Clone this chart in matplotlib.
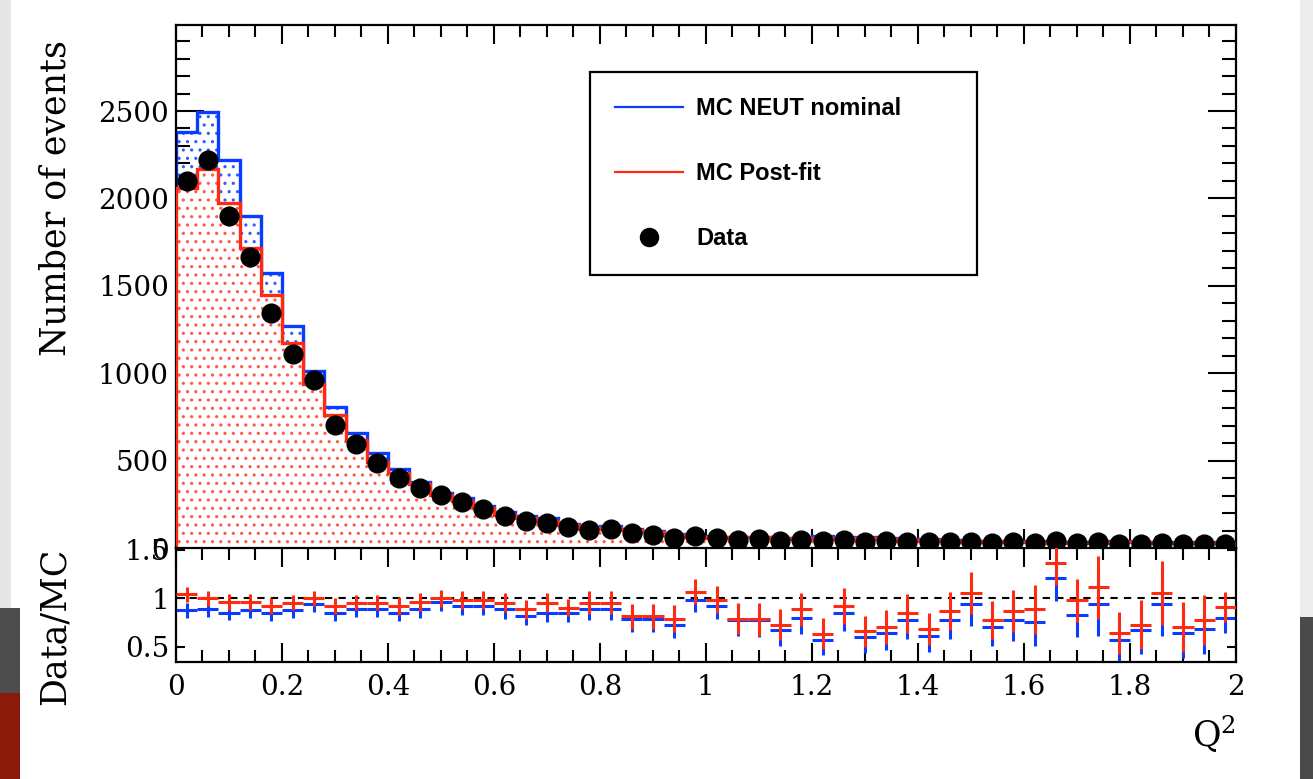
import numpy as np
import matplotlib.pyplot as plt
from matplotlib.lines import Line2D
from matplotlib.patches import Rectangle
from matplotlib.ticker import MultipleLocator

# ---------------------------------------------------------------------------
# Values (50 bins of width 0.04 in Q^2)
# ---------------------------------------------------------------------------
Q2_EDGES = np.round(np.arange(51) * 0.04, 2)

data_counts = [2100, 2220, 1900, 1665, 1345, 1110, 960, 703, 595, 485,
               400, 343, 303, 262, 222, 182, 152, 145, 118, 105,
               110, 85, 76, 58, 68, 58, 48, 50, 40, 46,
               38, 45, 36, 38, 36, 32, 34, 36, 30, 32,
               30, 40, 30, 32, 22, 24, 30, 22, 24, 24]

mc_nominal = [2380, 2493, 2221, 1897, 1573, 1268, 1011, 808, 659, 541,
              450, 379, 316, 285, 241, 206, 185, 171, 140, 118,
              124, 109, 97, 80, 69, 63, 62, 65, 60, 58,
              67, 53, 61, 59, 47, 52, 44, 38, 43, 41,
              40, 33, 36, 34, 39, 36, 32, 34, 35, 30]

mc_postfit = [2057, 2170, 1973, 1718, 1446, 1173, 937, 760, 617, 493,
              427, 366, 303, 267, 227, 191, 172, 152, 131, 110,
              115, 104, 93, 73, 64, 59, 61, 64, 55, 52,
              60, 49, 55, 54, 43, 47, 39, 34, 39, 37,
              34, 29, 31, 29, 34, 33, 29, 31, 31, 26]

ratio_nominal = [0.874, 0.885, 0.85, 0.874, 0.843, 0.874, 0.937, 0.843, 0.885, 0.885,
                 0.85, 0.885, 0.962, 0.92, 0.92, 0.885, 0.82, 0.85, 0.843, 0.89,
                 0.89, 0.78, 0.78, 0.727, 0.983, 0.92, 0.77, 0.77, 0.668, 0.797,
                 0.57, 0.85, 0.594, 0.64, 0.773, 0.612, 0.773, 0.937, 0.703, 0.773,
                 0.752, 1.206, 0.822, 0.937, 0.57, 0.668, 0.937, 0.64, 0.682, 0.797]

ratio_postfit = [1.04, 1.0, 0.962, 0.962, 0.92, 0.955, 1.0, 0.92, 0.955, 0.955,
                 0.92, 0.962, 1.0, 0.98, 0.98, 0.955, 0.885, 0.955, 0.902, 0.955,
                 0.955, 0.815, 0.815, 0.79, 1.066, 0.983, 0.79, 0.78, 0.727, 0.885,
                 0.633, 0.92, 0.657, 0.703, 0.843, 0.682, 0.867, 1.052, 0.773, 0.867,
                 0.885, 1.364, 0.979, 1.112, 0.64, 0.727, 1.052, 0.703, 0.773, 0.909]

ratio_err = [0.08, 0.08, 0.08, 0.08, 0.08, 0.08, 0.08, 0.08, 0.08, 0.08,
             0.09, 0.09, 0.09, 0.09, 0.09, 0.10, 0.10, 0.10, 0.09, 0.12,
             0.12, 0.13, 0.13, 0.14, 0.13, 0.14, 0.16, 0.17, 0.16, 0.17,
             0.16, 0.19, 0.16, 0.18, 0.20, 0.17, 0.20, 0.22, 0.20, 0.22,
             0.25, 0.23, 0.22, 0.33, 0.22, 0.25, 0.33, 0.26, 0.26, 0.16]

LEGEND_LABELS = ["MC NEUT nominal", "MC Post-fit", "Data"]

BLUE = "#0a3cff"
RED = "#ff2a12"
BLUE_DOTS = "#2f5cff"
RED_DOTS = "#ff5a48"

plt.rcParams["hatch.linewidth"] = 1.1
plt.rcParams["font.family"] = "DejaVu Serif"
plt.rcParams["mathtext.fontset"] = "dejavuserif"

fig = plt.figure(figsize=(13.13, 7.79), dpi=100)

# slide remnants at the picture edges
for x, y, w, h, c in [(0.0, 0.22, 0.008, 0.78, "#e6e6e6"),
                      (0.0, 0.0, 0.015, 0.22, "#4d4d4d"),
                      (0.0, 0.0, 0.015, 0.11, "#8a1a0a"),
                      (0.990, 0.208, 0.010, 0.792, "#ececec"),
                      (0.990, 0.0, 0.010, 0.208, "#4a4a4a")]:
    fig.add_artist(Rectangle((x, y), w, h, transform=fig.transFigure,
                             facecolor=c, edgecolor="none", zorder=-5))

ax = fig.add_axes([0.1340, 0.2965, 0.8073, 0.6714])
rax = fig.add_axes([0.1340, 0.1502, 0.8073, 0.1463], sharex=ax)

centers = 0.5 * (Q2_EDGES[:-1] + Q2_EDGES[1:])

# ---- main panel -----------------------------------------------------------
ax.stairs(mc_nominal, Q2_EDGES, fill=True, facecolor="white", edgecolor=BLUE_DOTS,
          hatch="..", linewidth=0, zorder=1)
ax.stairs(mc_nominal, Q2_EDGES, color=BLUE, linewidth=2.4, zorder=2)
ax.stairs(mc_postfit, Q2_EDGES, fill=True, facecolor="white", edgecolor=RED_DOTS,
          hatch="..", linewidth=0, zorder=3)
ax.stairs(mc_postfit, Q2_EDGES, color=RED, linewidth=2.4, zorder=4)
ax.plot(centers, data_counts, "o", color="black", markersize=13.5, zorder=5)

ax.set_xlim(0, 2)
ax.set_ylim(0, 2992)
ax.xaxis.set_major_locator(MultipleLocator(0.2))
ax.xaxis.set_minor_locator(MultipleLocator(0.05))
ax.yaxis.set_major_locator(MultipleLocator(500))
ax.yaxis.set_minor_locator(MultipleLocator(100))
ax.tick_params(axis="both", which="both", direction="in", top=True, right=True,
               width=1.5, labelsize=20)
ax.tick_params(axis="x", which="major", length=14)
ax.tick_params(axis="x", which="minor", length=8.5)
ax.tick_params(axis="y", which="major", length=20, pad=5)
ax.tick_params(axis="y", which="minor", length=10)
ax.tick_params(axis="x", labelbottom=False)
ax.set_yticks([0, 500, 1000, 1500, 2000, 2500])
ax.set_ylabel("Number of events", fontsize=25, loc="top")
ax.yaxis.set_label_coords(-0.098, 0.971)

handles = [Line2D([], [], color=BLUE, linewidth=1.6),
           Line2D([], [], color=RED, linewidth=1.6),
           Line2D([], [], color="black", marker="o", linestyle="none", markersize=13)]
leg = ax.legend(handles, LEGEND_LABELS, loc="upper left",
                bbox_to_anchor=(0.4494, 0.656, 0.2947, 0.2516),
                bbox_transform=fig.transFigure, mode="expand", borderaxespad=0,
                prop={"family": "Liberation Sans", "weight": "bold", "size": 17},
                handlelength=2.9, handletextpad=0.55, labelspacing=1.78,
                borderpad=1.05, fancybox=False, framealpha=1)
leg.get_frame().set_edgecolor("black")
leg.get_frame().set_linewidth(1.6)

for s in ax.spines.values():
    s.set_linewidth(1.6)

# ---- ratio panel ----------------------------------------------------------
rax.errorbar(centers, ratio_nominal, xerr=0.02, yerr=ratio_err, fmt="none",
             ecolor=BLUE, elinewidth=2.2, capsize=0, zorder=2)
rax.errorbar(centers, ratio_postfit, xerr=0.02, yerr=ratio_err, fmt="none",
             ecolor=RED, elinewidth=2.2, capsize=0, zorder=3)
rax.axhline(1.0, color="black", linestyle=(0, (3.5, 3)), linewidth=1.5, zorder=1)

rax.set_ylim(0.34, 1.52)
rax.set_yticks([0.5, 1, 1.5])
rax.set_yticklabels(["0.5", "1", "1.5"])
rax.tick_params(axis="both", which="both", direction="in", top=True, right=True,
                width=1.5, labelsize=20)
rax.tick_params(axis="x", which="major", length=14, pad=9)
rax.tick_params(axis="x", which="minor", length=8.5)
rax.tick_params(axis="y", which="major", length=6.5, pad=5)
rax.set_xticks([0, 0.2, 0.4, 0.6, 0.8, 1, 1.2, 1.4, 1.6, 1.8, 2])
rax.set_xticklabels(["0", "0.2", "0.4", "0.6", "0.8", "1", "1.2", "1.4", "1.6", "1.8", "2"])
rax.set_ylabel("Data/MC", fontsize=25, loc="top")
rax.yaxis.set_label_coords(-0.098, 1.0)
rax.set_xlabel(r"Q$^{2}$", fontsize=25, loc="right")
rax.xaxis.set_label_coords(1.0, -0.45)
for s in rax.spines.values():
    s.set_linewidth(1.6)

fig.savefig("out.png", dpi=100)
